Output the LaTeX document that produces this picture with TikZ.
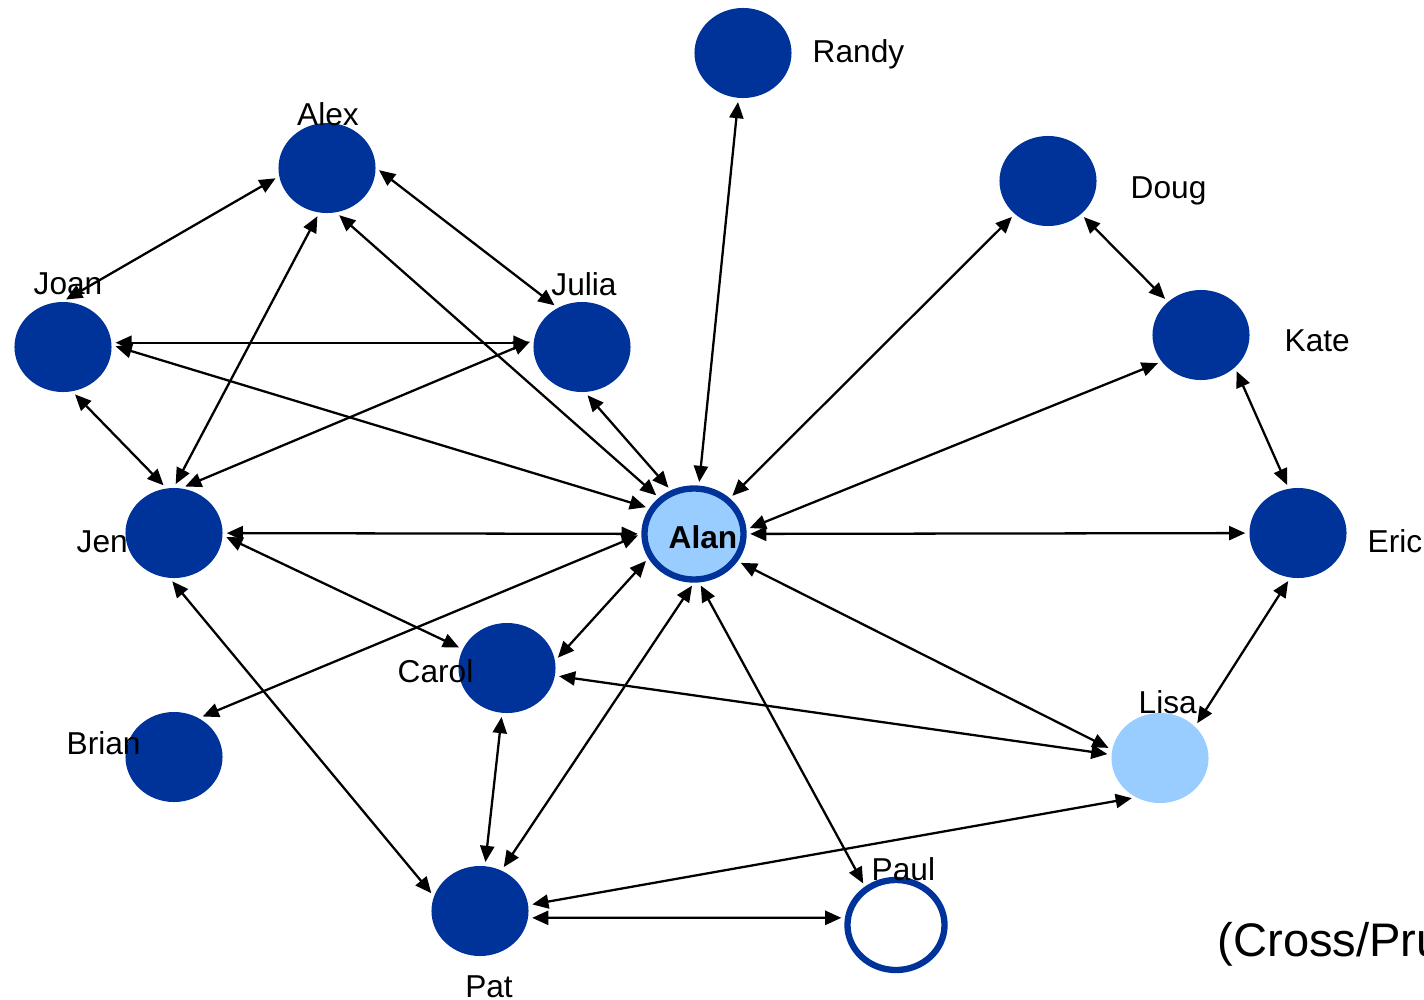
\documentclass[tikz,border=0pt]{standalone}
\usepackage{fontspec}
\setmainfont{Liberation Sans}
\usetikzlibrary{arrows.meta,shapes.geometric}
\definecolor{darkblue}{RGB}{0,51,153}
\definecolor{lightblue}{RGB}{153,204,255}

\begin{document}
\begin{tikzpicture}[x=0.01cm,y=-0.01cm,
  person/.style={ellipse,fill=darkblue,minimum width=0.97cm,minimum height=0.9cm,inner sep=0pt},
  lbl/.style={anchor=base west,inner sep=0pt,font=\fontsize{9}{11}\selectfont},
  rel/.style={{Triangle[length=4.6pt,width=4pt]}-{Triangle[length=4.6pt,width=4pt]},line width=0.65pt,shorten <=1pt,shorten >=1pt}]

\useasboundingbox (0,0) rectangle (1424,1000); % page size

    % People
    \node[person] (randy) at (743,53) {};
    \node[person] (alex) at (327,168) {};
    \node[person] (doug) at (1048,181) {};
    \node[person] (joan) at (63,347) {};
    \node[person] (julia) at (582,347) {};
    \node[person] (kate) at (1201,335) {};
    \node[person] (jen) at (174,533) {};
    \node[person] (eric) at (1298,533) {};
    \node[person] (carol) at (507,668) {};
    \node[person] (brian) at (174,757) {};
    \node[person] (pat) at (480,911) {};
    \node[person,fill=lightblue] (lisa) at (1160,758) {};
    \node[person,fill=lightblue,draw=darkblue,line width=1.8pt,minimum width=0.99cm,minimum height=0.91cm] (alan) at (694,534) {};
    \node[person,fill=white,draw=darkblue,line width=1.8pt,minimum width=0.97cm,minimum height=0.9cm] (paul) at (896,925) {};

    % Ties between people
    \foreach \a/\b in {randy/alan, alex.190/joan.north, alex.east/julia.122, alex.-100/jen.north,
        alex.-78/alan.134, joan.5/julia.175, joan.2/alan.150, joan.-78/jen.100, julia.172/jen.80,
        julia.-86/alan.118, doug/alan, doug/kate, kate.-146/alan.5, kate.-44/eric.102, alan/eric,
        eric.-100/lisa.42, jen/alan, jen.-3/carol.157, jen.-95/pat.162, brian.57/alan.west,
        carol.9/alan.-152, carol.-9/lisa.176, carol/pat, pat.62/alan.south, alan.-32/lisa.170,
        alan.-84/paul.129, pat.7/lisa.-122, pat.-8/paul.172} {
        \draw[rel] (\a) -- (\b);
    }

    % Names
    \node[lbl] (randyname) at (812,62) {Randy};
    \node[lbl,anchor=base] (alexname) at (328,125) {Alex};
    \node[lbl] (dougname) at (1130,198) {Doug};
    \node[lbl,anchor=base] (joanname) at (68,294) {Joan};
    \node[lbl,anchor=base] (julianame) at (584,295) {Julia};
    \node[lbl] (katename) at (1284,351) {Kate};
    \node[lbl] (jenname) at (76,552) {Jen};
    \node[lbl,font=\bfseries\fontsize{9}{11}\selectfont] (alanname) at (668,548) {Alan};
    \node[lbl] (ericname) at (1367,552) {Eric};
    \node[lbl] (carolname) at (397,682) {Carol};
    \node[lbl] (brianname) at (66,754) {Brian};
    \node[lbl] (lisaname) at (1138,713) {Lisa};
    \node[lbl] (paulname) at (871,880) {Paul};
    \node[lbl,anchor=base] (patname) at (489,997) {Pat};
    \node[lbl,font=\fontsize{13.4}{16}\selectfont] (source) at (1217,956) {(Cross/Pru};

\end{tikzpicture}
\end{document}
